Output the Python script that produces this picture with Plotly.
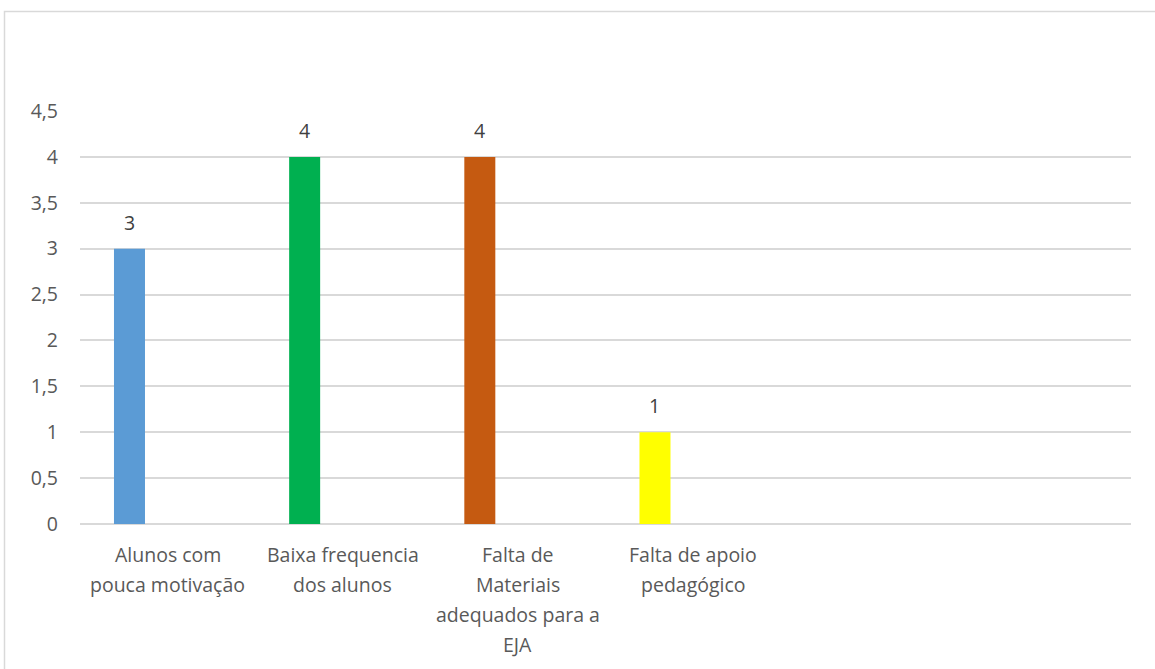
import plotly.graph_objects as go

# Chart data
categories = [
    "Alunos com<br>pouca motivação",
    "Baixa frequencia<br>dos alunos",
    "Falta de<br>Materiais<br>adequados para a<br>EJA",
    "Falta de apoio<br>pedagógico",
    "",
    "",
]
values = [3, 4, 4, 1, None, None]
bar_colors = ["#5B9BD5", "#00B050", "#C55A11", "#FFFF00", "#FFFFFF", "#FFFFFF"]
y_ticks = [0, 0.5, 1, 1.5, 2, 2.5, 3, 3.5, 4, 4.5]

# Layout geometry (pixels)
W, H = 1155, 669
ML, MR, MT, MB = 80, 24, 111, 145
plot_w = W - ML - MR
plot_h = H - MT - MB

BAR_OFFSET = -0.306
BAR_WIDTH = 0.177

FONT = "Open Sans"
FONT_SIZE = 19.5
AXIS_COLOR = "#595959"
LABEL_COLOR = "#404040"
GRID = "#D9D9D9"

positions = list(range(len(categories)))
shown = [(p, v, c) for p, v, c in zip(positions, values, bar_colors) if v is not None]

fig = go.Figure()
fig.add_trace(go.Bar(
    x=[p for p, _, _ in shown],
    y=[v for _, v, _ in shown],
    marker=dict(color=[c for _, _, c in shown], line=dict(width=0)),
    offset=BAR_OFFSET,
    width=BAR_WIDTH,
    hoverinfo="skip",
))

annotations = []
# value labels above bars
for p, v, _ in shown:
    annotations.append(dict(
        x=p + BAR_OFFSET + BAR_WIDTH / 2, y=v, xref="x", yref="y",
        text=str(v), showarrow=False, yanchor="bottom", yshift=11,
        font=dict(family=FONT, size=FONT_SIZE, color=LABEL_COLOR),
    ))

# category labels under the axis, one annotation per line
LINE_STEP = 30
for p, label in zip(positions, categories):
    if not label:
        continue
    for j, line in enumerate(label.split("<br>")):
        annotations.append(dict(
            x=p, y=0, xref="x", yref="paper",
            text=line, showarrow=False, yanchor="middle",
            yshift=-(30 + LINE_STEP * j),
            font=dict(family=FONT, size=FONT_SIZE, color=AXIS_COLOR),
        ))

# chart area frame
frame_left, frame_top = 4.5, 11.5
shapes = [dict(
    type="rect", xref="paper", yref="paper",
    x0=(frame_left - ML) / plot_w, x1=1.2,
    y0=-0.6, y1=1 + (MT - frame_top) / plot_h,
    line=dict(color=GRID, width=1.5), fillcolor="rgba(0,0,0,0)", layer="below",
)]

fig.update_layout(
    width=W, height=H,
    margin=dict(l=ML, r=MR, t=MT, b=MB),
    paper_bgcolor="white", plot_bgcolor="white",
    separators=",.",
    showlegend=False,
    annotations=annotations,
    shapes=shapes,
    xaxis=dict(
        range=[-0.5, len(categories) - 0.5],
        showticklabels=False, showgrid=False, zeroline=False,
        showline=False, ticks="", fixedrange=True,
    ),
    yaxis=dict(
        range=[0, 4.5], tickvals=y_ticks,
        showgrid=True, gridcolor=GRID, gridwidth=1.5,
        zeroline=True, zerolinecolor=GRID, zerolinewidth=1.5,
        showline=False, ticks="", ticklabelstandoff=21,
        tickfont=dict(family=FONT, size=FONT_SIZE, color=AXIS_COLOR),
        fixedrange=True,
    ),
)

fig.write_html("out.html")
